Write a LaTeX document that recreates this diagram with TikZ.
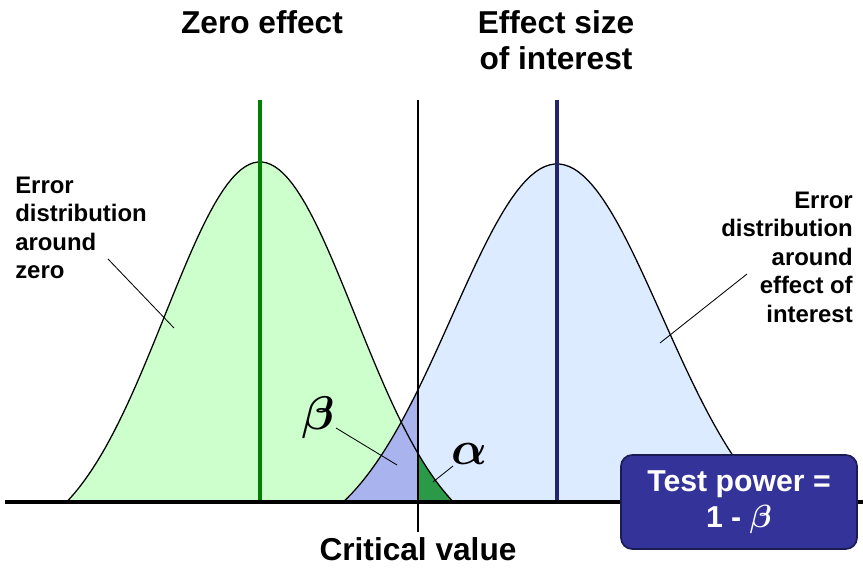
\documentclass[tikz,border=0pt]{standalone}
\usepackage{amsmath}
\usepackage{graphicx}
\usepackage{fontspec}
\setmainfont{Liberation Sans}
\usetikzlibrary{positioning,calc}
\definecolor{pgreen}{HTML}{CCFFCC}
\definecolor{pblue}{HTML}{DCEBFF}
\definecolor{pbeta}{HTML}{5050D0}
\definecolor{palpha}{HTML}{2A9A48}
\definecolor{pnavy}{HTML}{24246E}
\definecolor{pgline}{HTML}{008000}
\definecolor{pbox}{HTML}{333399}
\newcommand{\bigsym}[1]{\scalebox{1.35}{$\boldsymbol{#1}$}}
\tikzset{
  declare function={bell(\t)=(exp(-\t*\t/2)-0.126)/0.874;},
  pcurve/.style={draw=black, line width=0.9pt, line join=round},
  plead/.style={black, line width=0.6pt},
  ptitle/.style={font=\fontsize{22.5}{25.6}\selectfont\bfseries, align=center},
  plbl/.style={font=\fontsize{17}{20.3}\selectfont\bfseries, inner sep=0pt},
  pgreek/.style={font=\fontsize{24.88}{28}\selectfont, inner sep=0pt},
  pbadge/.style={rounded corners=8pt, draw=pbox!55!black, line width=1.2pt,
                 fill=pbox, text=white, align=center,
                 font=\fontsize{21.5}{25.6}\selectfont\bfseries,
                 minimum width=5.9cm, minimum height=2.35cm},
}

\begin{document}
\begin{tikzpicture}[x=0.025cm,y=0.025cm]
  \useasboundingbox (0,-67) rectangle (863,502);

  % the two error distributions
  \fill[pgreen] plot[domain=-2.035:2.035, samples=90] ({260+95*\x},{340*bell(\x)}) -- cycle;
  \fill[pblue] plot[domain=-2.038:2.038, samples=90] ({557+105*\x},{338*bell(\x)}) -- cycle;

  % beta and alpha areas
  \fill[pbeta, opacity=0.36] plot[domain=-2.038:-1.3238, samples=30] ({557+105*\x},{338*bell(\x)})
    -- (418,0) -- cycle;
  \fill[palpha] plot[domain=1.6632:2.035, samples=20] ({260+95*\x},{340*bell(\x)})
    -- (418,0) -- cycle;

  \draw[pcurve] plot[domain=-2.035:2.035, samples=90] ({260+95*\x},{340*bell(\x)});
  \draw[pcurve] plot[domain=-2.038:2.038, samples=90] ({557+105*\x},{338*bell(\x)});

  % means and critical value
  \draw[pgline, line width=3.5pt] (260,0) -- (260,402);
  \draw[pnavy, line width=2.8pt] (557,0) -- (557,402);
  \draw[black, line width=1.4pt] (418,-30) -- (418,402);
  \draw[black, line width=2.8pt] (5,0) -- (863,0);

  \node[ptitle] (zero) at (262,480) {Zero effect};
  \node[ptitle] (effect) at (556,462) {Effect size\\of interest};
  \node[ptitle] (crit) at (418,-47) {Critical value};

  \node[plbl, anchor=west, align=left] (lblzero) at (15,274)
    {Error\\distribution\\around\\zero};
  \node[plbl, anchor=east, align=right] (lblint) at (853,245)
    {Error\\distribution\\around\\effect of\\interest};

  \node[pgreek] (beta) at (318,84) {\bigsym{\beta}};
  \node[pgreek] (alpha) at (469,48) {\bigsym{\alpha}};

  \coordinate (zfrom) at (108,243);
  \coordinate (zto) at (174,174);
  \coordinate (ifrom) at (747,228);
  \coordinate (ito) at (660,159);
  \coordinate (bfrom) at (336,74);
  \coordinate (bto) at (397,37);
  \coordinate (afrom) at (453,36);
  \coordinate (ato) at (433,20);
  \draw[plead] (zfrom) -- (zto);
  \draw[plead] (ifrom) -- (ito);
  \draw[plead] (bfrom) -- (bto);
  \draw[plead] (afrom) -- (ato);

  \node[pbadge] (power) at (739,0) {Test power =\\1 - \scalebox{1.1}{$\boldsymbol{\beta}$}};
\end{tikzpicture}
\end{document}
